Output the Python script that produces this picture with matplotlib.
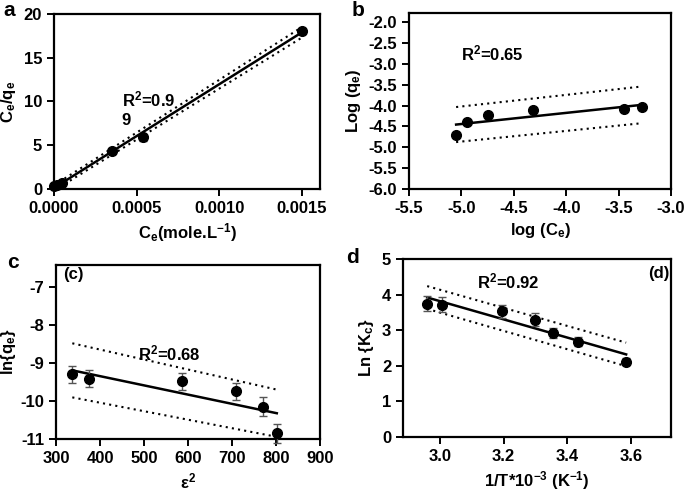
import numpy as np
import matplotlib
matplotlib.use("Agg")
import matplotlib.pyplot as plt
from matplotlib.ticker import FormatStrFormatter

plt.rcParams['font.family'] = ['Liberation Sans', 'DejaVu Sans']
plt.rcParams['font.weight'] = 'bold'
plt.rcParams['mathtext.fontset'] = 'custom'
plt.rcParams['mathtext.rm'] = 'Liberation Sans:bold'
plt.rcParams['mathtext.it'] = 'Liberation Sans:bold'
plt.rcParams['mathtext.bf'] = 'Liberation Sans:bold'
plt.rcParams['axes.unicode_minus'] = False

# (a) Langmuir
a_x = [0.000003, 0.00002, 0.00005, 0.00035, 0.00054, 0.0015]
a_y = [0.4, 0.5, 0.7, 4.3, 5.9, 18.1]
a_err = [0.1, 0.1, 0.15, 0.35, 0.4, 0.35]
a_band = [0.3, 0.6]      # half width of dotted band at line ends

# (b) Freundlich
b_x = [-5.05, -4.95, -4.75, -4.32, -3.45, -3.28]
b_y = [-4.7, -4.4, -4.22, -4.1, -4.08, -4.03]
b_band = [0.42, 0.44]

# (c) D-R
c_x = [337, 375, 586, 709, 770, 802]
c_y = [-9.3, -9.42, -9.48, -9.75, -10.15, -10.85]
c_err = [0.22, 0.22, 0.22, 0.22, 0.25, 0.25]
c_band = [0.71, 0.62]

# (d) van't Hoff
d_x = [2.96, 3.005, 3.195, 3.3, 3.355, 3.435, 3.585]
d_y = [3.75, 3.72, 3.53, 3.3, 2.92, 2.68, 2.12]
d_err = [0.2, 0.2, 0.18, 0.17, 0.15, 0.13, 0.1]
d_band = [0.32, 0.33]

fig = plt.figure(figsize=(6.85, 4.94), dpi=100)
axA = fig.add_axes([0.0788, 0.6174, 0.3882, 0.3543])
axB = fig.add_axes([0.597, 0.6174, 0.3826, 0.3563])
axC = fig.add_axes([0.0818, 0.1113, 0.3852, 0.3523])
axD = fig.add_axes([0.5883, 0.1154, 0.3913, 0.3603])

LBL = 12
TXT = 12


def style(ax):
    for s in ax.spines.values():
        s.set_linewidth(1.6)
    ax.tick_params(direction='out', length=5, width=1.4, labelsize=12)
    for lab in ax.get_xticklabels() + ax.get_yticklabels():
        lab.set_fontweight('bold')


def fit_plot(ax, x, y, band, x0=None, x1=None):
    k, b = np.polyfit(x, y, 1)
    xs = np.array([min(x) if x0 is None else x0, max(x) if x1 is None else x1])
    ys = k * xs + b
    ax.plot(xs, ys, color='black', lw=1.8, zorder=3)
    ax.plot(xs, ys + np.array(band), color='black', lw=1.5, ls=(0, (1, 2)))
    ax.plot(xs, ys - np.array(band), color='black', lw=1.5, ls=(0, (1, 2)))


def points(ax, x, y, err=None):
    if err is not None:
        ax.errorbar(x, y, yerr=err, fmt='none', ecolor='#555555', elinewidth=1,
                    capsize=3, capthick=1, zorder=4, clip_on=False)
    ax.plot(x, y, 'o', color='black', ms=7, zorder=5, clip_on=False)


# a
fit_plot(axA, a_x, a_y, a_band, 0.0, 0.0015)
points(axA, a_x, a_y, a_err)
axA.set_xlim(0, 0.00161)
axA.set_ylim(0, 20)
axA.set_xticks([0, 0.0005, 0.0010, 0.0015])
axA.xaxis.set_major_formatter(FormatStrFormatter('%.4f'))
axA.set_yticks([0, 5, 10, 15, 20])
axA.set_xlabel('C$_e$(mole.L$^{-1}$)', fontsize=LBL, fontweight='bold')
axA.set_ylabel('C$_e$/q$_e$', fontsize=LBL, fontweight='bold')
axA.text(0.00041, 11.4, 'R$^2$=0.9\n9', fontsize=TXT, fontweight='bold',
         va='top', linespacing=1.3)
style(axA)

# b
fit_plot(axB, b_x, b_y, b_band)
points(axB, b_x, b_y)
axB.set_xlim(-5.5, -3.0)
axB.set_ylim(-6.0, -1.78)
axB.set_xticks(np.arange(-5.5, -2.9, 0.5))
axB.set_yticks(np.arange(-6.0, -1.9, 0.5))
axB.xaxis.set_major_formatter(FormatStrFormatter('%.1f'))
axB.yaxis.set_major_formatter(FormatStrFormatter('%.1f'))
axB.set_xlabel('log (C$_e$)', fontsize=LBL, fontweight='bold')
axB.set_ylabel('Log (q$_e$)', fontsize=LBL, fontweight='bold')
axB.text(-5.0, -2.74, 'R$^2$=0.65', fontsize=TXT, fontweight='bold', va='center')
style(axB)

# c
fit_plot(axC, c_x, c_y, c_band)
points(axC, c_x, c_y, c_err)
axC.set_xlim(300, 900)
axC.set_ylim(-11, -6.43)
axC.set_xticks(range(300, 901, 100))
axC.set_yticks([-11, -10, -9, -8, -7])
axC.set_xlabel('\u03b5$^2$', fontsize=LBL, fontweight='bold')
axC.set_ylabel('ln{q$_e$}', fontsize=LBL, fontweight='bold')
axC.yaxis.set_label_coords(-0.145, 0.5)
axC.text(316, -6.69, '(c)', fontsize=TXT, fontweight='bold', va='center')
axC.text(486, -8.75, 'R$^2$=0.68', fontsize=TXT, fontweight='bold', va='center')
style(axC)

# d
fit_plot(axD, d_x, d_y, d_band)
points(axD, d_x, d_y, d_err)
axD.set_xlim(2.884, 3.726)
axD.set_ylim(0, 5)
axD.set_xticks([3.0, 3.2, 3.4, 3.6])
axD.xaxis.set_major_formatter(FormatStrFormatter('%.1f'))
axD.set_yticks(range(0, 6))
axD.set_xlabel('1/T*10$^{-3}$ (K$^{-1}$)', fontsize=LBL, fontweight='bold')
axD.set_ylabel('Ln {K$_c$}', fontsize=LBL, fontweight='bold')
axD.text(3.115, 4.36, 'R$^2$=0.92', fontsize=TXT, fontweight='bold', va='center')
axD.text(3.72, 4.6, '(d)', fontsize=TXT, fontweight='bold', va='center', ha='right')
style(axD)

for lab, x, y in [('a', 0.005, 0.998), ('b', 0.513, 0.998),
                  ('c', 0.011, 0.487), ('d', 0.506, 0.497)]:
    fig.text(x, y, lab, fontsize=15, fontweight='bold', va='top')

fig.savefig('out.png', dpi=100)
